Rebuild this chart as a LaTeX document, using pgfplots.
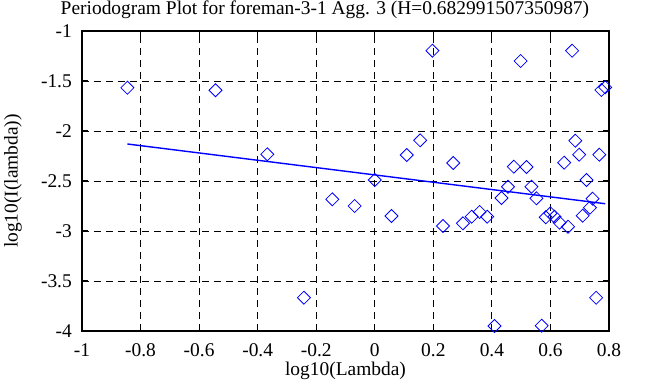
\documentclass[border=0pt]{standalone}
\usepackage{pgfplots}
\pgfplotsset{compat=1.18}
\usepackage{fontspec}
\setmainfont{Liberation Serif}
\definecolor{pblue}{RGB}{0,0,255}
\begin{document}
\begin{tikzpicture}
\path[use as bounding box] (-82bp,-56bp) rectangle (576bp,331bp);
\begin{axis}[at={(0,0)}, anchor=south west, scale only axis,
  width=527bp, height=300bp,
  xmin=-1, xmax=0.8, ymin=-4, ymax=-1,
  xtick={-1,-0.8,-0.6,-0.4,-0.2,0,0.2,0.4,0.6,0.8},
  ytick={-4,-3.5,-3,-2.5,-2,-1.5,-1},
  xticklabels={-1,-0.8,-0.6,-0.4,-0.2,0,0.2,0.4,0.6,0.8},
  yticklabels={-4,-3.5,-3,-2.5,-2,-1.5,-1},
  font=\fontsize{19.5}{22}\selectfont,
  axis line style={line width=1.6bp, black},
  tick style={line width=1.2bp, black},
  major tick length=6bp,
  tick align=inside,
  grid=major,
  major grid style={black, line width=0.8bp, dash pattern=on 7bp off 5bp},
  xticklabel style={anchor=base, yshift=-25bp},
  yticklabel style={anchor=east, inner sep=0pt, xshift=-10bp},
  title={Periodogram Plot for foreman-3-1 Agg. 3 (H=0.682991507350987)},
  title style={at={(axis description cs:0.461,1.0367)}, anchor=base, inner sep=0pt},
  xlabel={log10(Lambda)},
  xlabel style={at={(axis description cs:0.5,-0.1467)}, anchor=base, inner sep=0pt},
  ylabel={log10(I(lambda))},
  ylabel style={at={(axis description cs:-0.131,0.5)}, anchor=center, inner sep=0pt},
]
\addplot[only marks, mark=square, mark size=4.6bp,
  mark options={rotate=45, pblue, line width=0.8bp, fill=none}] coordinates {
(-0.845,-1.567) (-0.544,-1.593) (-0.367,-2.233) (-0.242,-3.667)
(-0.145,-2.683) (-0.069,-2.75) (0,-2.49) (0.057,-2.85)
(0.109,-2.24) (0.155,-2.093) (0.197,-1.197) (0.233,-2.95)
(0.268,-2.32) (0.301,-2.923) (0.331,-2.857) (0.358,-2.81)
(0.384,-2.857) (0.409,-3.95) (0.433,-2.67) (0.455,-2.557)
(0.475,-2.357) (0.498,-1.3) (0.518,-2.36) (0.535,-2.557)
(0.552,-2.673) (0.570,-3.947) (0.584,-2.863) (0.600,-2.823)
(0.614,-2.857) (0.631,-2.917) (0.647,-2.317) (0.660,-2.957)
(0.674,-1.197) (0.685,-2.097) (0.698,-2.237) (0.710,-2.847)
(0.723,-2.49) (0.735,-2.767) (0.744,-2.677) (0.756,-3.667)
(0.767,-2.237) (0.774,-1.59) (0.787,-1.563)
};
\addplot[pblue, line width=1.4bp] coordinates {(-0.845,-2.130) (0.787,-2.727)};
\end{axis}
\end{tikzpicture}
\end{document}
